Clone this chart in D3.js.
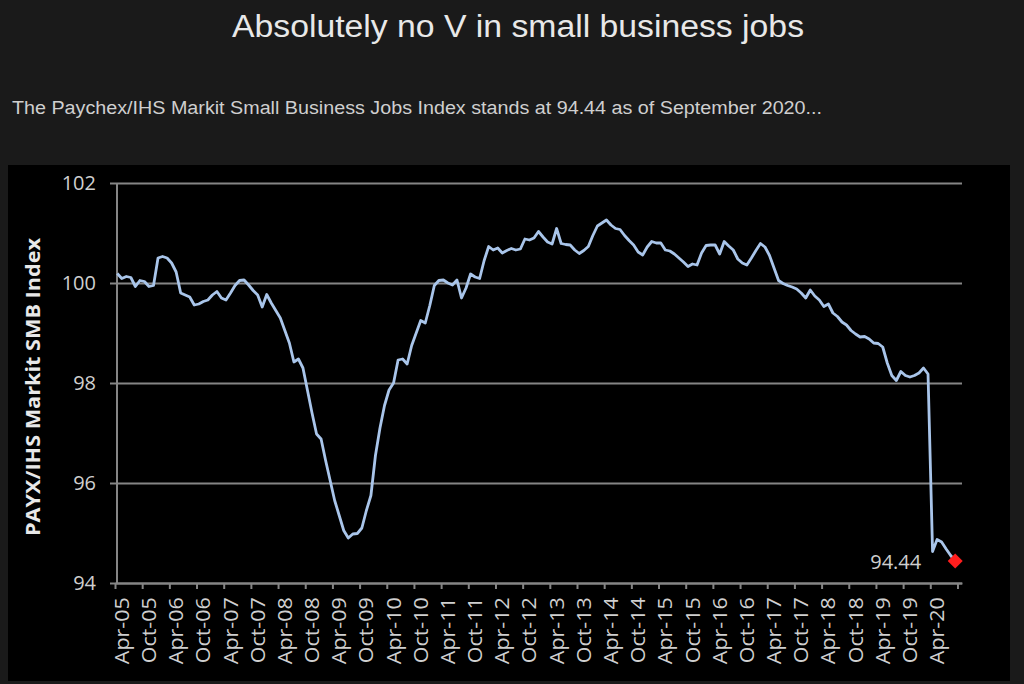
<!DOCTYPE html>
<html>
<head>
<meta charset="utf-8">
<script src="https://cdn.jsdelivr.net/npm/d3@7"></script>
<style>
  html, body { margin: 0; padding: 0; background: #1a1a1a; }
  svg { display: block; }
</style>
</head>
<body>
<svg id="chart" width="1024" height="684"></svg>
<script>
// ---- data (monthly, Apr-2005 .. Sep-2020) ----
const values = [
  100.19,100.09,100.13,100.11,99.93,100.05,100.03,99.93,99.95,          // Apr-05..Dec-05
  100.50,100.53,100.50,100.40,100.22,99.80,99.76,99.72,99.56,99.58,99.63,99.66, // 2006
  99.76,99.83,99.70,99.66,99.80,99.95,100.05,100.06,99.96,99.85,99.76,99.52,    // 2007
  99.77,99.60,99.45,99.30,99.05,98.80,98.42,98.48,98.30,97.85,97.40,96.98,      // 2008
  96.88,96.45,96.05,95.65,95.35,95.05,94.90,94.98,94.99,95.10,95.45,95.75,      // 2009
  96.55,97.10,97.55,97.86,98.00,98.46,98.48,98.38,98.75,99.00,99.25,99.20,      // 2010
  99.55,99.95,100.05,100.06,100.00,99.96,100.06,99.70,99.90,100.18,100.12,100.09, // 2011
  100.45,100.73,100.66,100.70,100.60,100.65,100.69,100.66,100.68,100.88,100.86,100.90, // 2012
  101.03,100.92,100.82,100.78,101.09,100.79,100.77,100.76,100.66,100.59,100.65,100.73, // 2013
  100.95,101.14,101.20,101.26,101.16,101.09,101.07,100.95,100.85,100.76,100.62,100.56, // 2014
  100.72,100.83,100.80,100.80,100.66,100.64,100.58,100.50,100.42,100.33,100.38,100.36, // 2015
  100.60,100.75,100.76,100.76,100.58,100.83,100.74,100.66,100.48,100.40,100.36,100.50, // 2016
  100.65,100.79,100.72,100.55,100.30,100.05,99.99,99.95,99.92,99.88,99.80,99.70,       // 2017
  99.86,99.74,99.66,99.53,99.58,99.40,99.33,99.22,99.16,99.05,98.98,98.92,             // 2018
  98.93,98.88,98.80,98.79,98.72,98.40,98.15,98.05,98.23,98.15,98.12,98.15,             // 2019
  98.20,98.30,98.18,94.63,94.87,94.82,94.68,94.55,94.44                                // Jan-20..Sep-20
];
const yTicks = [94, 96, 98, 100, 102];
const xTickLabels = ["Apr-05","Oct-05","Apr-06","Oct-06","Apr-07","Oct-07","Apr-08","Oct-08",
  "Apr-09","Oct-09","Apr-10","Oct-10","Apr-11","Oct-11","Apr-12","Oct-12","Apr-13","Oct-13",
  "Apr-14","Oct-14","Apr-15","Oct-15","Apr-16","Oct-16","Apr-17","Oct-17","Apr-18","Oct-18",
  "Apr-19","Oct-19","Apr-20"];
const lastLabel = "94.44";
const titleText = "Absolutely no V in small business jobs";
const subtitleText = "The Paychex/IHS Markit Small Business Jobs Index stands at 94.44 as of September 2020...";
const yAxisTitle = "PAYX/IHS Markit SMB Index";

(function () {
// ---- layout ----
const svg = d3.select("#chart");
const pL = 115, pR = 962, pT = 183, pB = 583;
const nCat = values.length + 1; // axis runs through the Oct-20 boundary
const idx = d3.range(nCat);

svg.append("text").attr("x", 232).attr("y", 37)
  .attr("font-family", "Liberation Sans, Arial, sans-serif").attr("font-size", 31)
  .attr("textLength", 572).attr("lengthAdjust", "spacingAndGlyphs")
  .attr("fill", "#e8e8e8").text(titleText);
svg.append("text").attr("x", 12).attr("y", 114)
  .attr("font-family", "Liberation Sans, Arial, sans-serif").attr("font-size", 18)
  .attr("textLength", 810).attr("lengthAdjust", "spacingAndGlyphs")
  .attr("fill", "#cfcfcf").text(subtitleText);

svg.append("rect").attr("x", 8).attr("y", 165).attr("width", 1002).attr("height", 516).attr("fill", "#000");

const x = d3.scaleBand().domain(idx).range([pL, pR]).padding(0);
const xb = d3.scaleLinear().domain([0, nCat]).range([pL, pR]);
const y = d3.scaleLinear().domain([94, 102]).range([pB, pT]);

const axisColor = "#858585";
const tickFont = "Open Sans, Noto Sans, sans-serif";

// gridlines + y tick labels
const gy = svg.append("g").attr("transform", `translate(${pL + 2},0)`)
  .call(d3.axisLeft(y).tickValues(yTicks).tickSizeInner(-(pR - pL - 2)).tickSizeOuter(0).tickPadding(21));
gy.select(".domain").remove();
gy.selectAll(".tick line").attr("stroke", axisColor).attr("stroke-width", 2);
gy.selectAll(".tick text").attr("font-family", tickFont).attr("font-size", 20).attr("fill", "#cfcfcf");
// small left tick stubs
const gys = svg.append("g").attr("transform", `translate(${pL + 2},0)`)
  .call(d3.axisLeft(y).tickValues(yTicks).tickSize(7).tickFormat(""));
gys.select(".domain").remove();
gys.selectAll(".tick line").attr("stroke", axisColor).attr("stroke-width", 2);
// vertical y axis line
svg.append("line").attr("x1", pL + 2).attr("x2", pL + 2).attr("y1", pT).attr("y2", pB)
  .attr("stroke", axisColor).attr("stroke-width", 2);

// bottom axis tick marks
const tickIdx = d3.range(0, nCat + 1, 6);
const gx = svg.append("g").attr("transform", `translate(0,${pB})`)
  .call(d3.axisBottom(xb).tickValues(tickIdx).tickSize(6).tickFormat("").tickSizeOuter(0));
gx.select(".domain").attr("stroke", axisColor).attr("stroke-width", 2);
gx.selectAll(".tick line").attr("stroke", axisColor).attr("stroke-width", 2);

// bottom axis labels (rotated)
const labelIdx = xTickLabels.map((d, i) => i * 6 + 1);
const gxl = svg.append("g").attr("transform", `translate(0,${pB})`)
  .call(d3.axisBottom(x).tickValues(labelIdx).tickSize(0).tickFormat((d, i) => xTickLabels[i]));
gxl.select(".domain").remove();
gxl.selectAll(".tick text")
  .attr("font-family", tickFont).attr("font-size", 19.5).attr("fill", "#cfcfcf")
  .attr("text-anchor", "end").attr("transform", "rotate(-90) scale(1.1,1)")
  .attr("x", -13).attr("y", 0).attr("dy", "0.36em");

// y axis title
svg.append("text").attr("transform", `translate(40,387) rotate(-90)`)
  .attr("text-anchor", "middle").attr("font-family", tickFont).attr("font-weight", "bold")
  .attr("font-size", 19).attr("textLength", 298).attr("lengthAdjust", "spacingAndGlyphs")
  .attr("fill", "#e8e8e8").text(yAxisTitle);

// line
const line = d3.line().x((d, i) => x(i) + x.bandwidth() / 2).y(d => y(d));
svg.append("path").datum(values).attr("d", line).attr("fill", "none")
  .attr("stroke", "#a9c5ea").attr("stroke-width", 2.8).attr("stroke-linejoin", "round");

// last point marker + label
const li = values.length - 1;
const lx = x(li) + x.bandwidth() / 2, ly = y(values[li]);
svg.append("path").attr("d", d3.symbol(d3.symbolSquare, 112)())
  .attr("transform", `translate(${lx},${ly}) rotate(45)`)
  .attr("fill", "#ff1e1e");
svg.append("text").attr("x", lx - 34).attr("y", ly + 8)
  .attr("text-anchor", "end").attr("font-family", tickFont).attr("font-size", 20)
  .attr("fill", "#cfcfcf").text(lastLabel);
})();
</script>
</body>
</html>
